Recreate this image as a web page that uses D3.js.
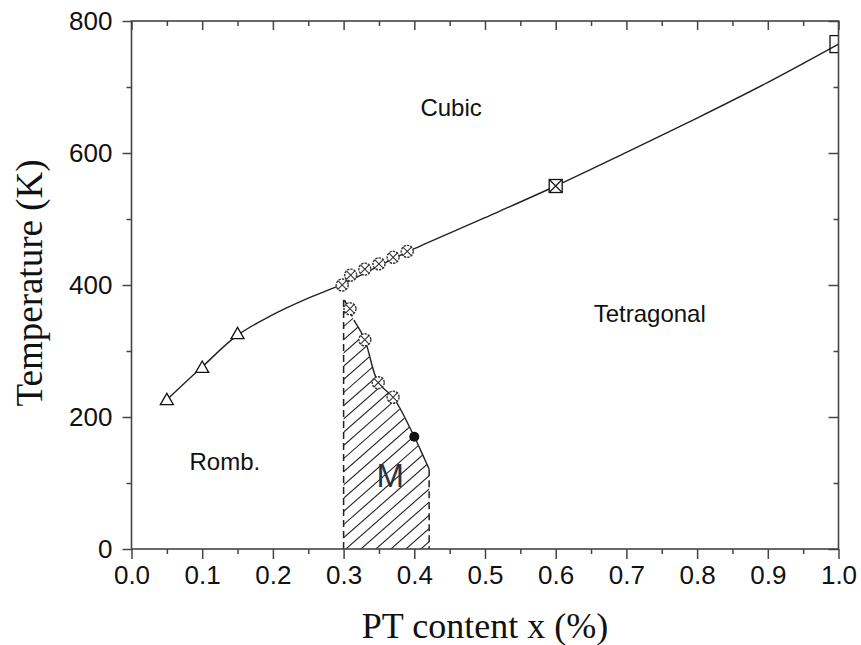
<!DOCTYPE html>
<html>
<head>
<meta charset="utf-8">
<script src="https://cdn.jsdelivr.net/npm/d3@7"></script>
<style>
  html, body { margin: 0; padding: 0; background: #fff; }
  svg { display: block; }
</style>
</head>
<body>
<svg id="chart" width="861" height="645"></svg>
<script>
// ---- data ----
const xTicks = [0.0, 0.1, 0.2, 0.3, 0.4, 0.5, 0.6, 0.7, 0.8, 0.9, 1.0];
const xTickLabels = ["0.0", "0.1", "0.2", "0.3", "0.4", "0.5", "0.6", "0.7", "0.8", "0.9", "1.0"];
const yTicks = [0, 200, 400, 600, 800];

// triangles (rhombohedral -> cubic transition)
const triX = [0.05, 0.10, 0.15];
const triT = [226, 275, 326];

// crossed circles on the cubic/tetragonal boundary
const upperCircX = [0.298, 0.31, 0.33, 0.35, 0.37, 0.39];
const upperCircT = [400, 415, 424, 432, 442, 451];

// crossed circles on the morphotropic boundary
const lowerCircX = [0.309, 0.33, 0.349, 0.37];
const lowerCircT = [364, 317, 252, 230];

// filled point
const dotX = [0.40];
const dotT = [170];

// crossed squares
const sqX = [0.60];
const sqT = [550];
// open square at pure PT
const openSqX = [1.0];
const openSqT = [765];

// fitted transition line (Tc)
const tcX = [0.05, 0.10, 0.15, 0.20, 0.25, 0.30, 0.35, 0.40, 0.50, 0.60, 0.70, 0.80, 0.90, 1.00];
const tcT = [226, 276, 324, 355, 380, 402, 429, 455, 502, 550, 601, 653, 707, 765];

// morphotropic boundary (solid part)
const mbX = [0.316, 0.33, 0.349, 0.37, 0.40, 0.413];
const mbT = [344, 317, 252, 230, 170, 140];

// region outline pieces
const mLeftX = 0.300, mLeftTopT = 380;
const mRightX = 0.421, mRightTopT = 121;

// region labels
const labels = [
  { text: "Cubic", x: 0.452, t: 666, size: 24 },
  { text: "Tetragonal", x: 0.733, t: 354, size: 24 },
  { text: "Romb.", x: 0.132, t: 130, size: 24 },
];

// ---- layout ----
const svg = d3.select("#chart");
const plotL = 131.5, plotR = 838.5, plotT = 21, plotB = 549;
const x = d3.scaleLinear().domain([0, 1]).range([plotL, plotR]);
const y = d3.scaleLinear().domain([0, 800]).range([plotB, plotT]);

const axisColor = "#444";
const sans = "'Liberation Sans', Arial, sans-serif";
const serif = "'Liberation Serif', 'Times New Roman', serif";

const defs = svg.append("defs");
// clip to plot area
defs.append("clipPath").attr("id", "plotClip")
  .append("rect").attr("x", plotL).attr("y", plotT)
  .attr("width", plotR - plotL).attr("height", plotB - plotT);

// ---- hatched M region ----
const regionPts = [];
regionPts.push([mLeftX, 0]);
regionPts.push([mLeftX, mLeftTopT]);
mbX.forEach((v, i) => regionPts.push([v, mbT[i]]));
regionPts.push([mRightX, mRightTopT]);
regionPts.push([mRightX, 0]);
const regionPath = d3.line().x(d => x(d[0])).y(d => y(d[1]))(regionPts) + "Z";

defs.append("clipPath").attr("id", "mClip")
  .append("path").attr("d", regionPath);

const hatch = svg.append("g").attr("clip-path", "url(#mClip)");
const hx0 = x(mLeftX) - 5, hx1 = x(mRightX) + 5;
const slope = 0.88, spacing = 13.2;
for (let yy = y(mLeftTopT) - 20; yy < plotB + 160; yy += spacing) {
  hatch.append("line")
    .attr("x1", hx0).attr("y1", yy)
    .attr("x2", hx1).attr("y2", yy - slope * (hx1 - hx0))
    .attr("stroke", "#222").attr("stroke-width", 1.1);
}

// dashed outlines of M region
svg.append("path")
  .attr("d", d3.line().x(d => x(d[0])).y(d => y(d[1]))([[mLeftX, 0], [mLeftX, mLeftTopT], [mbX[0], mbT[0]]]))
  .attr("fill", "none").attr("stroke", "#222").attr("stroke-width", 1.5)
  .attr("stroke-dasharray", "7,4");

svg.append("path")
  .attr("d", d3.line().x(d => x(d[0])).y(d => y(d[1]))([[mRightX, mRightTopT], [mRightX, 0]]))
  .attr("fill", "none").attr("stroke", "#222").attr("stroke-width", 1.5)
  .attr("stroke-dasharray", "7,4");

// solid morphotropic boundary with rounded end into the right edge
const mbLine = mbX.map((v, i) => [v, mbT[i]]).concat([[mRightX, mRightTopT]]);
svg.append("path")
  .attr("d", d3.line().x(d => x(d[0])).y(d => y(d[1])).curve(d3.curveCatmullRom.alpha(0.5))(mbLine))
  .attr("fill", "none").attr("stroke", "#222").attr("stroke-width", 1.4);

// ---- Tc curve ----
svg.append("path")
  .attr("clip-path", "url(#plotClip)")
  .attr("d", d3.line().x(d => x(d)).y((d, i) => y(tcT[i])).curve(d3.curveCatmullRom.alpha(0.5))(tcX))
  .attr("fill", "none").attr("stroke", "#222").attr("stroke-width", 1.4);

// ---- markers ----
const mk = svg.append("g");

// open triangles
triX.forEach((v, i) => {
  const cx = x(v), cy = y(triT[i]), s = 6.5;
  mk.append("path")
    .attr("d", `M${cx},${cy - s}L${cx + s},${cy + s * 0.75}L${cx - s},${cy + s * 0.75}Z`)
    .attr("fill", "#fff").attr("stroke", "#111").attr("stroke-width", 1.3);
});

// crossed circles
function crossedCircle(cx, cy) {
  const r = 6, d = r * 0.72;
  mk.append("circle").attr("cx", cx).attr("cy", cy).attr("r", r)
    .attr("fill", "#fff").attr("stroke", "#333").attr("stroke-width", 1.4)
    .attr("stroke-dasharray", "2.4,1");
  mk.append("path")
    .attr("d", `M${cx - d},${cy - d}L${cx + d},${cy + d}M${cx - d},${cy + d}L${cx + d},${cy - d}`)
    .attr("stroke", "#333").attr("stroke-width", 1.1);
}
upperCircX.forEach((v, i) => crossedCircle(x(v), y(upperCircT[i])));
lowerCircX.forEach((v, i) => crossedCircle(x(v), y(lowerCircT[i])));

// filled circle
dotX.forEach((v, i) => {
  mk.append("circle").attr("cx", x(v)).attr("cy", y(dotT[i])).attr("r", 5)
    .attr("fill", "#111");
});

// crossed square
sqX.forEach((v, i) => {
  const cx = x(v), cy = y(sqT[i]), h = 6.5;
  mk.append("rect").attr("x", cx - h).attr("y", cy - h).attr("width", 2 * h).attr("height", 2 * h)
    .attr("fill", "#fff").attr("stroke", "#111").attr("stroke-width", 1.3);
  mk.append("path")
    .attr("d", `M${cx - h},${cy - h}L${cx + h},${cy + h}M${cx - h},${cy + h}L${cx + h},${cy - h}`)
    .attr("stroke", "#111").attr("stroke-width", 1.1);
});

// open square at x = 1
const sqClip = svg.append("g").attr("clip-path", "url(#plotClip)");
openSqX.forEach((v, i) => {
  const cx = x(v), cy = y(openSqT[i]), h = 8.5;
  sqClip.append("rect").attr("x", cx - h).attr("y", cy - h).attr("width", 2 * h).attr("height", 2 * h)
    .attr("fill", "none").attr("stroke", "#111").attr("stroke-width", 1.3);
});

// ---- axes ----
const minorX = d3.range(0.05, 1.0, 0.1);
const minorY = [100, 300, 500, 700];

const bottomAxis = svg.append("g").attr("transform", `translate(0,${plotB})`)
  .call(d3.axisBottom(x).tickValues(xTicks).tickFormat((d, i) => xTickLabels[i]).tickSize(10).tickPadding(7));
bottomAxis.append("g").call(d3.axisBottom(x).tickValues(minorX).tickFormat("").tickSize(5));

const leftAxis = svg.append("g").attr("transform", `translate(${plotL},0)`)
  .call(d3.axisLeft(y).tickValues(yTicks).tickSize(9).tickPadding(10));
leftAxis.append("g").call(d3.axisLeft(y).tickValues(minorY).tickFormat("").tickSize(5));

const topAxis = svg.append("g").attr("transform", `translate(0,${plotT})`)
  .call(d3.axisBottom(x).tickValues(xTicks).tickFormat("").tickSize(9));
topAxis.append("g").call(d3.axisBottom(x).tickValues(minorX).tickFormat("").tickSize(5));

const rightAxis = svg.append("g").attr("transform", `translate(${plotR},0)`)
  .call(d3.axisLeft(y).tickValues(yTicks).tickFormat("").tickSize(10));
rightAxis.append("g").call(d3.axisLeft(y).tickValues(minorY).tickFormat("").tickSize(5));

[bottomAxis, leftAxis, topAxis, rightAxis].forEach(g => {
  g.selectAll(".domain").remove();
  g.selectAll("line").attr("stroke", axisColor).attr("stroke-width", 1.5);
  g.selectAll("text").attr("fill", "#111").style("font-family", sans).style("font-size", "26px");
});

// frame
svg.append("rect").attr("x", plotL).attr("y", plotT)
  .attr("width", plotR - plotL).attr("height", plotB - plotT)
  .attr("fill", "none").attr("stroke", axisColor).attr("stroke-width", 1.6);

// ---- region labels ----
labels.forEach(l => {
  svg.append("text").attr("x", x(l.x)).attr("y", y(l.t))
    .attr("text-anchor", "middle").attr("dominant-baseline", "middle")
    .style("font-family", sans).style("font-size", l.size + "px").attr("fill", "#111")
    .text(l.text);
});
svg.append("text").attr("x", x(0.366)).attr("y", y(107))
  .attr("text-anchor", "middle").attr("dominant-baseline", "middle")
  .style("font-family", sans).style("font-size", "33px").attr("fill", "#2a3140")
  .text("M");

// ---- axis titles ----
svg.append("text").attr("x", 485).attr("y", 638)
  .attr("text-anchor", "middle")
  .style("font-family", serif).style("font-size", "36px").attr("fill", "#111")
  .text("PT content x (%)");
svg.append("text")
  .attr("transform", `translate(42,283) rotate(-90)`)
  .attr("text-anchor", "middle")
  .style("font-family", serif).style("font-size", "37px").attr("fill", "#111")
  .text("Temperature (K)");
</script>
</body>
</html>
